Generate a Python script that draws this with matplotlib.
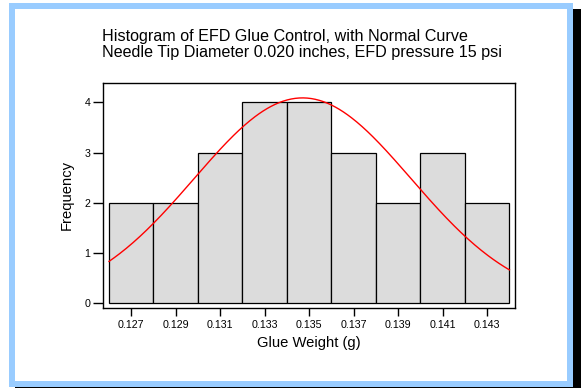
import numpy as np
import matplotlib
matplotlib.use('Agg')
import matplotlib.pyplot as plt
from matplotlib.patches import Rectangle

# bin centres (g) and counts
bin_centers = [0.127, 0.129, 0.131, 0.133, 0.135, 0.137, 0.139, 0.141, 0.143]
counts = [2, 2, 3, 4, 4, 3, 2, 3, 2]
bin_width = 0.002

# fitted normal curve parameters
curve_mean = 0.1347
curve_std = 0.00488

x_ticks = [0.127, 0.129, 0.131, 0.133, 0.135, 0.137, 0.139, 0.141, 0.143]
y_ticks = [0, 1, 2, 3, 4]

W, H = 581, 388
plt.rcParams['font.family'] = ['Liberation Sans', 'DejaVu Sans']

fig = plt.figure(figsize=(W / 100, H / 100), dpi=100)


def px(x, y, w, h):
    # pixel box (top-left origin) -> figure fraction rectangle args
    return (x / W, 1 - (y + h) / H), w / W, h / H


# frame: black shadow, blue border, white inside
for (x, y, w, h), col in [
    ((15, 9, 566, 379), 'black'),
    ((9, 3, 564, 384), '#99ccff'),
    ((15, 9, 552, 372), 'white'),
]:
    xy, ww, hh = px(x, y, w, h)
    fig.add_artist(Rectangle(xy, ww, hh, transform=fig.transFigure,
                             facecolor=col, edgecolor='none', zorder=0))

ax = fig.add_axes([103 / W, 1 - 308 / H, 412 / W, 225 / H])
ax.set_facecolor('white')

ax.bar(bin_centers, counts, width=bin_width, color='#dcdcdc',
       edgecolor='black', linewidth=0.9, zorder=2)

xs = np.linspace(0.126, 0.144, 300)
scale = sum(counts) * bin_width
ys = scale * np.exp(-0.5 * ((xs - curve_mean) / curve_std) ** 2) / (curve_std * np.sqrt(2 * np.pi))
ax.plot(xs, ys, color='red', linewidth=1.0, zorder=3)

ax.set_xlim(0.12573, 0.14425)
ax.set_ylim(-0.093, 4.384)
ax.set_xticks(x_ticks)
ax.set_xticklabels([f'{t:.3f}' for t in x_ticks])
ax.set_yticks(y_ticks)

for s in ax.spines.values():
    s.set_linewidth(1.0)
ax.tick_params(axis='both', direction='out', labelsize=7.7, width=1.0, colors='black')
ax.tick_params(axis='x', length=6, pad=3)
ax.tick_params(axis='y', length=7, pad=2)

ax.set_xlabel('Glue Weight (g)', fontsize=10.6, labelpad=4)
ax.set_ylabel('Frequency', fontsize=10.6, labelpad=8)

fig.text(102 / W, 1 - 40.5 / H, 'Histogram of EFD Glue Control, with Normal Curve',
         fontsize=11.6, ha='left', va='baseline')
fig.text(102 / W, 1 - 57 / H, 'Needle Tip Diameter 0.020 inches, EFD pressure 15 psi',
         fontsize=11.6, ha='left', va='baseline')

fig.savefig('out.png', dpi=100)
